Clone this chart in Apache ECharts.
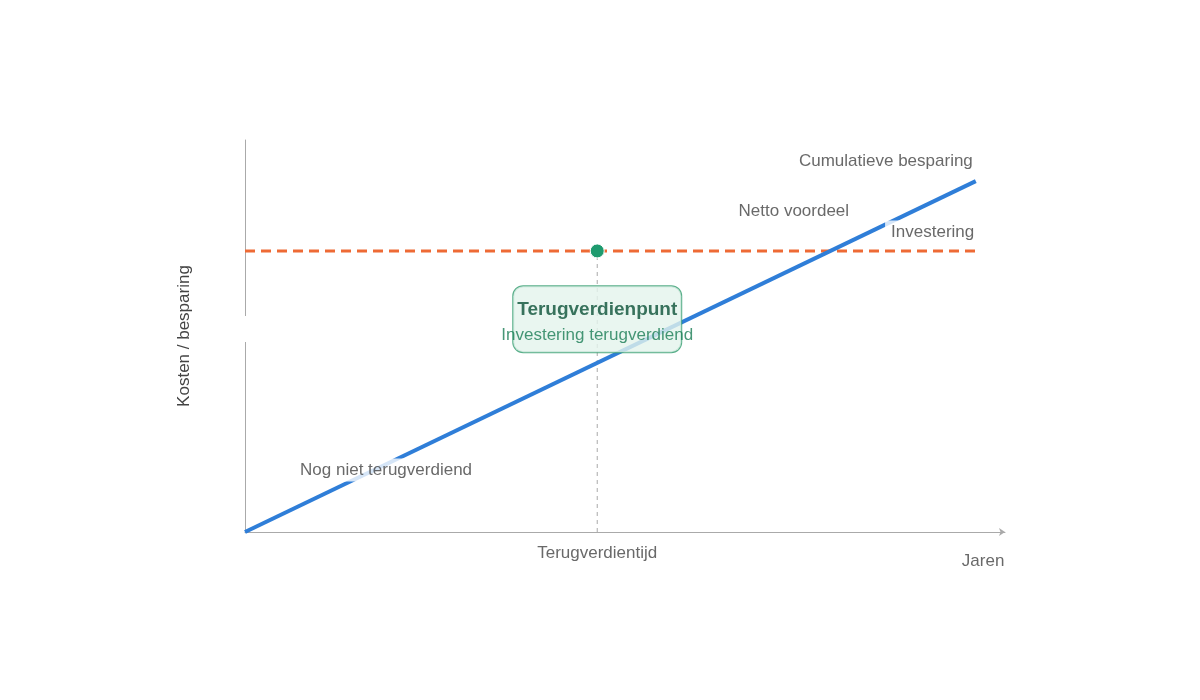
<!DOCTYPE html>
<html><head><meta charset="utf-8">
<script src="https://cdn.jsdelivr.net/npm/echarts@6/dist/echarts.min.js"></script>
<style>html,body{margin:0;background:#fff}#c{width:1200px;height:700px}</style>
</head><body><div id="c"></div>
<script>
const savingsLine = [[0, 0], [100, 89.5]];
const investment = 71.7;
const paybackX = 48.2;
const textLabels = [
  ['Cumulatieve besparing', 87.7, 94.6],
  ['Netto voordeel', 75.1, 81.9],
  ['Investering', 94.1, 76.5],
  ['Nog niet terugverdiend', 19.3, 15.8],
  ['Terugverdientijd', 48.2, -5.4],
  ['Jaren', 101.0, -7.6]
];
const font = '"Liberation Sans", Arial, sans-serif';
const chart = echarts.init(document.getElementById('c'));
chart.setOption({
  animation: false,
  grid: {left: 245, right: 195, top: 140, bottom: 168},
  xAxis: {type: 'value', min: 0, max: 104, splitLine: {show: false}, axisTick: {show: false}, axisLabel: {show: false},
    axisLine: {lineStyle: {color: '#aaa'}, symbol: ['none', 'arrow'], symbolSize: [6, 6]}},
  yAxis: {type: 'value', min: 0, max: 100, splitLine: {show: false}, axisTick: {show: false}, axisLabel: {show: false},
    axisLine: {show: true, lineStyle: {color: '#aaa'}},
    name: 'Kosten / besparing', nameLocation: 'middle', nameGap: 52,
    nameTextStyle: {color: '#444', fontSize: 17, fontFamily: font}},
  series: [
    {type: 'line', data: [[0, investment], [100, investment]], symbol: 'none', z: 2,
      lineStyle: {color: '#ee6a35', width: 3, type: [10, 6]}},
    {type: 'line', data: [[paybackX, 0], [paybackX, investment]], symbol: 'none', z: 1,
      lineStyle: {color: '#aaa', width: 1, type: [4, 4]}},
    {type: 'line', data: savingsLine, symbol: 'none', z: 3,
      lineStyle: {color: '#2f7ed8', width: 4}},
    {type: 'scatter', data: [[paybackX, investment]], symbolSize: 14, z: 6, zlevel: 1,
      itemStyle: {color: '#1e9a6e', borderColor: '#fff', borderWidth: 1, opacity: 1}},
    {type: 'scatter', data: [[paybackX, 54.3]], symbolSize: 0, zlevel: 1, silent: true,
      label: {show: true, position: 'inside',
        formatter: '{a|Terugverdienpunt}\n{b|Investering terugverdiend}',
        backgroundColor: '#e3f4ec', borderColor: '#2e9a6b', borderWidth: 1, borderRadius: 10,
        padding: [12, 0, 4, 0], width: 168, align: 'center',
        rich: {a: {fontSize: 19, fontWeight: 'bold', color: '#0b5137', fontFamily: font, lineHeight: 24, align: 'center'},
               b: {fontSize: 17, color: '#1a7d55', fontFamily: font, lineHeight: 26, align: 'center'}}}},
    {type: 'scatter', zlevel: 1, symbolSize: 0, clip: false, silent: true,
      data: textLabels.map(t => ({name: t[0], value: [t[1], t[2]]})),
      label: {show: true, position: 'inside', formatter: p => p.name, color: '#444', fontSize: 17,
        fontFamily: font, backgroundColor: '#fff', padding: [3, 6]}}
  ],
  graphic: [{type: 'rect', shape: {x: 240, y: 316, width: 10, height: 26}, style: {fill: '#fff'}, z: 100}]
});
</script></body></html>
